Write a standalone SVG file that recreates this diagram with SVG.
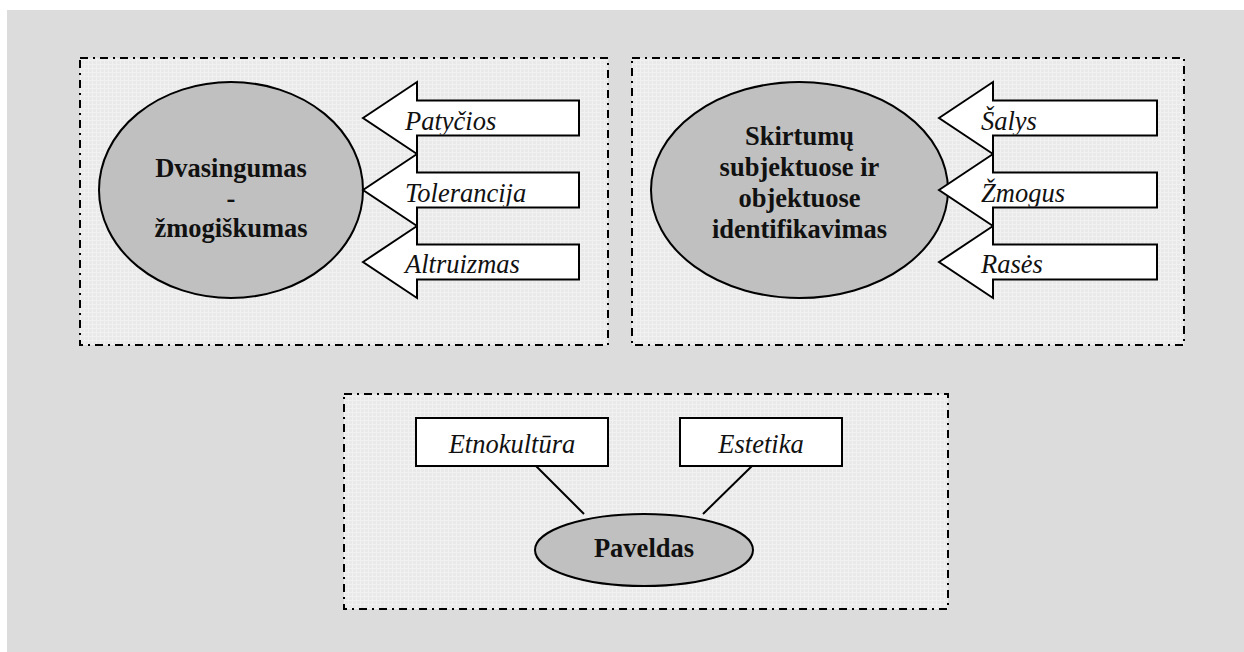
<svg xmlns="http://www.w3.org/2000/svg" width="1244" height="652" viewBox="0 0 1244 652">
  <defs>
    <pattern id="grid" width="4" height="4" patternUnits="userSpaceOnUse">
      <rect width="4" height="4" fill="#e9e9e9"/>
      <path d="M0 0.5H4M0.5 0V4" stroke="#f1f1f1" stroke-width="1"/>
    </pattern>
    <!-- clip regions follow the outline of each block arrow -->
    <clipPath id="clipA1" clipPathUnits="userSpaceOnUse"><polygon points="363,118 417,82 417,100.5 579,100.5 579,134.5 417,134.5 417,154"/></clipPath>
    <clipPath id="clipA2" clipPathUnits="userSpaceOnUse"><polygon points="363,190 417,154 417,172.5 579,172.5 579,206.5 417,206.5 417,226"/></clipPath>
    <clipPath id="clipA3" clipPathUnits="userSpaceOnUse"><polygon points="363,262 417,226 417,244.5 579,244.5 579,278.5 417,278.5 417,298"/></clipPath>
    <clipPath id="clipB1" clipPathUnits="userSpaceOnUse"><polygon points="939,118 993,82 993,100.5 1157,100.5 1157,134.5 993,134.5 993,154"/></clipPath>
    <clipPath id="clipB2" clipPathUnits="userSpaceOnUse"><polygon points="939,190 993,154 993,172.5 1157,172.5 1157,206.5 993,206.5 993,226"/></clipPath>
    <clipPath id="clipB3" clipPathUnits="userSpaceOnUse"><polygon points="939,262 993,226 993,244.5 1157,244.5 1157,278.5 993,278.5 993,298"/></clipPath>
  </defs>
  <style>
    .panel { fill: url(#grid); stroke: #000; stroke-width: 2; stroke-dasharray: 8 5 2 5; }
    .oval { fill: #c0c0c0; stroke: #000; stroke-width: 2; }
    .arrow { fill: #fff; stroke: #000; stroke-width: 2; stroke-linejoin: miter; }
    .box { fill: #fff; stroke: #000; stroke-width: 2; }
    .link { stroke: #000; stroke-width: 2; fill: none; }
    text { font-family: "Liberation Serif", "Times New Roman", Times, serif; fill: #111; }
    .title { font-weight: bold; font-size: 26.5px; text-anchor: middle; }
    .label { font-style: italic; font-size: 26.5px; }
  </style>

  <rect width="1244" height="652" fill="#fff"/>
  <rect x="7" y="10" width="1237" height="642" fill="#dcdcdc"/>

  <!-- panel frames -->
  <rect class="panel" x="80" y="58" width="528" height="287"/>
  <rect class="panel" x="632" y="58" width="552" height="287"/>
  <rect class="panel" x="344" y="394" width="604" height="215"/>

  <!-- connectors -->
  <g id="connectors">
    <line class="link" x1="536" y1="466" x2="584" y2="514"/>
    <line class="link" x1="752" y1="466" x2="703" y2="514"/>
  </g>

  <!-- group 1 -->
  <g id="dvasingumas">
    <ellipse class="oval" cx="231" cy="190" rx="132" ry="108"/>
    <text class="title" x="231" y="177">Dvasingumas</text>
    <text class="title" x="231" y="207">-</text>
    <text class="title" x="231" y="237">žmogiškumas</text>
  </g>
  <g id="patycios">
    <polygon class="arrow" points="363,118 417,82 417,100.5 579,100.5 579,135.5 417,135.5 417,154"/>
    <text class="label" x="405" y="130" clip-path="url(#clipA1)">Patyčios</text>
  </g>
  <g id="tolerancija">
    <polygon class="arrow" points="363,190 417,154 417,172.5 579,172.5 579,207.5 417,207.5 417,226"/>
    <text class="label" x="405" y="202" clip-path="url(#clipA2)">Tolerancija</text>
  </g>
  <g id="altruizmas">
    <polygon class="arrow" points="363,262 417,226 417,244.5 579,244.5 579,279.5 417,279.5 417,298"/>
    <text class="label" x="405" y="273" clip-path="url(#clipA3)">Altruizmas</text>
  </g>

  <!-- group 2 -->
  <g id="skirtumai">
    <ellipse class="oval" cx="799.5" cy="190" rx="148.5" ry="108"/>
    <text class="title" x="799.5" y="145">Skirtumų</text>
    <text class="title" x="799.5" y="176">subjektuose ir</text>
    <text class="title" x="799.5" y="207">objektuose</text>
    <text class="title" x="799.5" y="238">identifikavimas</text>
  </g>
  <g id="salys">
    <polygon class="arrow" points="939,118 993,82 993,100.5 1157,100.5 1157,135.5 993,135.5 993,154"/>
    <text class="label" x="981" y="130" clip-path="url(#clipB1)">Šalys</text>
  </g>
  <g id="zmogus">
    <polygon class="arrow" points="939,190 993,154 993,172.5 1157,172.5 1157,207.5 993,207.5 993,226"/>
    <text class="label" x="981" y="202" clip-path="url(#clipB2)">Žmogus</text>
  </g>
  <g id="rases">
    <polygon class="arrow" points="939,262 993,226 993,244.5 1157,244.5 1157,279.5 993,279.5 993,298"/>
    <text class="label" x="981" y="273" clip-path="url(#clipB3)">Rasės</text>
  </g>

  <!-- group 3 -->
  <g id="etnokultura">
    <rect class="box" x="416" y="418" width="192" height="48"/>
    <text class="label" x="512" y="453" text-anchor="middle">Etnokultūra</text>
  </g>
  <g id="estetika">
    <rect class="box" x="680" y="418" width="162" height="48"/>
    <text class="label" x="761" y="453" text-anchor="middle">Estetika</text>
  </g>
  <g id="paveldas">
    <ellipse class="oval" cx="644" cy="550" rx="109" ry="36"/>
    <text class="title" x="644" y="557">Paveldas</text>
  </g>
</svg>
